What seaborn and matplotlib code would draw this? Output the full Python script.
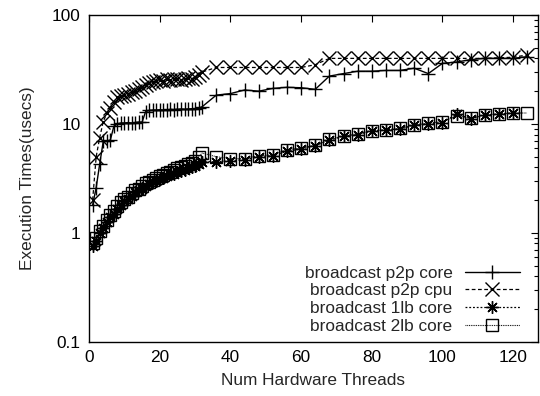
import matplotlib
matplotlib.use("Agg")
import matplotlib.pyplot as plt
import seaborn as sns
import pandas as pd
import numpy as np
from matplotlib.ticker import LogLocator, NullFormatter

sns.set_style("white")
plt.rcParams['font.family'] = ['Liberation Sans', 'DejaVu Sans']

dense = list(range(1, 33))
sparse = list(range(36, 125, 4))

threads_all = dense + sparse  # 1..32, 36..124
threads_1lb = dense + list(range(36, 121, 4))

p2p_core = [1.8, 2.6, 4.3, 6.9, 7.0, 7.1, 9.5, 10.0, 10.2, 10.2, 10.3, 10.2, 10.3, 10.4, 10.4, 13.0,
            13.3, 13.4, 13.4, 13.5, 13.4, 13.5, 13.6, 13.5, 13.6, 13.7, 13.6, 13.7, 13.8, 13.8, 14.0, 14.4,
            18.4, 19.0, 20.5, 20.0, 21.2, 21.7, 21.5, 20.8, 27.5, 29.0, 30.5, 30.5, 31.0, 31.0, 32.5,
            29.0, 36.0, 37.0, 39.0, 40.0, 40.0, 40.0, 41.5]

p2p_cpu = [2.0, 5.0, 7.5, 10.5, 12.5, 14.0, 16.0, 17.5, 18.0, 18.5, 19.0, 19.5, 20.0, 21.0, 22.0, 23.0,
           24.0, 24.5, 25.0, 25.5, 25.0, 26.0, 25.5, 26.0, 26.0, 25.5, 26.0, 26.5, 26.0, 27.0, 28.0, 30.0,
           33.0, 33.0, 33.0, 33.0, 33.0, 33.0, 33.0, 35.0, 40.0, 40.0, 40.0, 40.0, 40.0, 40.0, 40.0,
           40.0, 40.0, 40.0, 40.0, 40.0, 40.5, 41.0, 43.0]

lb1_core = [0.75, 0.85, 1.0, 1.1, 1.25, 1.4, 1.5, 1.65, 1.8, 1.95, 2.05, 2.2, 2.35, 2.45, 2.55, 2.7,
            2.8, 2.9, 3.0, 3.1, 3.2, 3.35, 3.45, 3.5, 3.6, 3.7, 3.8, 3.9, 4.0, 4.1, 4.3, 4.5,
            4.5, 4.6, 4.7, 5.0, 5.1, 5.6, 5.9, 6.3, 7.1, 7.7, 8.0, 8.6, 8.8, 9.0, 9.7,
            10.0, 10.3, 12.3, 11.2, 12.0, 12.3, 12.6]

lb2_core = [0.8, 0.9, 1.05, 1.15, 1.3, 1.45, 1.6, 1.75, 1.9, 2.05, 2.15, 2.3, 2.45, 2.55, 2.7, 2.85,
            2.95, 3.05, 3.2, 3.3, 3.4, 3.55, 3.65, 3.75, 3.9, 4.0, 4.15, 4.3, 4.4, 4.6, 5.0, 5.4,
            5.0, 4.8, 4.8, 5.1, 5.2, 5.8, 6.0, 6.4, 7.2, 7.8, 8.1, 8.7, 8.8, 9.1, 9.8,
            10.2, 10.5, 11.9, 11.3, 12.1, 12.4, 12.6, 12.6]

labels = ["broadcast p2p core", "broadcast p2p cpu", "broadcast 1lb core", "broadcast 2lb core"]
x_ticks = [0, 20, 40, 60, 80, 100, 120]
y_ticks = [0.1, 1, 10, 100]
y_ticklabels = ["0.1", "1", "10", "100"]

FS = 12.4

fig = plt.figure(figsize=(5.4, 3.96), dpi=100)
ax = fig.add_axes([0.165, 0.137, 0.831, 0.825])

series = [
    (threads_all, p2p_core, labels[0], dict(marker='+', linestyle='-', markersize=10.5, lw=1.0)),
    (threads_all, p2p_cpu, labels[1], dict(marker='x', linestyle=(0, (3, 2)), markersize=10, lw=0.9)),
    (threads_1lb, lb1_core, labels[2], dict(marker=(8, 2, 0), linestyle=(0, (1.5, 1.5)), markersize=9, lw=0.9)),
    (threads_all, lb2_core, labels[3], dict(marker='s', linestyle=(0, (0.8, 0.8)), markersize=9, lw=0.8,
                                             mfc='none')),
]
for xs, ys, lab, kw in series:
    df = pd.DataFrame({"threads": xs, "time": ys})
    sns.lineplot(data=df, x="threads", y="time", ax=ax, color="black", label=lab,
                 estimator=None, sort=False, mec='black', mew=1.0, **kw)

ax.set_yscale("log")
ax.set_xlim(0, 127)
ax.set_ylim(0.1, 100)
ax.set_xticks(x_ticks)
ax.set_yticks(y_ticks)
ax.set_yticklabels(y_ticklabels)
ax.yaxis.set_minor_locator(LogLocator(base=10, subs=np.arange(2, 10)))
ax.yaxis.set_minor_formatter(NullFormatter())
ax.tick_params(which='both', direction='in', top=True, right=True, labelsize=FS, colors='black')
ax.tick_params(which='major', length=5, width=0.8, pad=6)
ax.tick_params(which='minor', length=3, width=0.8)
for s in ax.spines.values():
    s.set_color('black')
    s.set_linewidth(1.0)

ax.set_xlabel("Num Hardware Threads", fontsize=FS, labelpad=6)
ax.set_ylabel("Execution Times(usecs)", fontsize=FS, labelpad=12)

ax.legend(loc='lower right', markerfirst=False, frameon=False, fontsize=FS,
          handlelength=3.2, labelspacing=0.15, handletextpad=0.7,
          borderaxespad=0.0, borderpad=0.3, bbox_to_anchor=(0.971, 0.009))

fig.savefig("out.png", dpi=100)
